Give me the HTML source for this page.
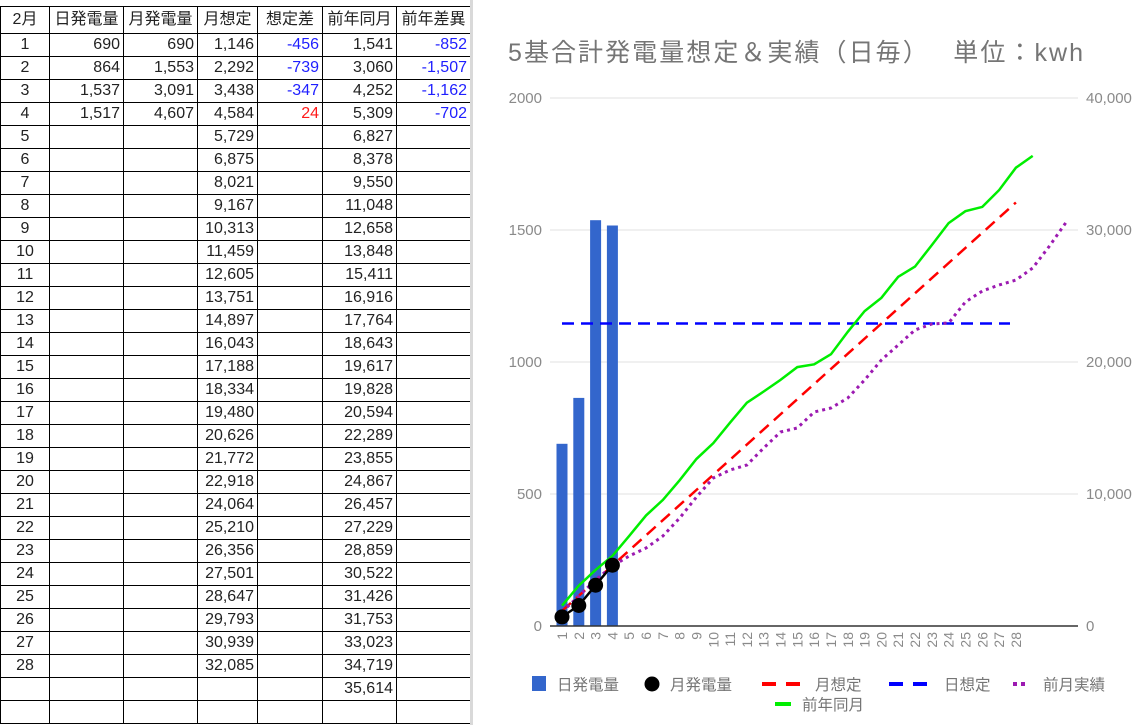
<!DOCTYPE html>
<html><head><meta charset="utf-8"><style>
body{margin:0;width:1147px;height:725px;background:#fff;overflow:hidden;position:relative;font-family:"Liberation Sans","Noto Sans CJK JP",sans-serif;}
table{position:absolute;left:0;top:6px;border-collapse:collapse;font-size:16px;color:#222;}
td{border:1px solid #000;height:22px;padding:0 3px;text-align:right;line-height:22px;white-space:nowrap;}
tr.h td{height:26px;text-align:center;}
td:first-child{text-align:center;}
.b{color:#1f1fff}.r{color:#ff1a1a}
#sep{position:absolute;left:470px;top:0;width:3px;height:725px;background:#d9d9d9;}
svg{position:absolute;left:0;top:0;}
</style></head><body>
<table>
<colgroup><col style="width:49px"><col style="width:74px"><col style="width:74px"><col style="width:60px"><col style="width:65px"><col style="width:74px"><col style="width:74px"></colgroup>
<tr class="h"><td>2月</td><td>日発電量</td><td>月発電量</td><td>月想定</td><td>想定差</td><td>前年同月</td><td>前年差異</td></tr>
<tr><td>1</td><td>690</td><td>690</td><td>1,146</td><td class="b">-456</td><td>1,541</td><td class="b">-852</td></tr>
<tr><td>2</td><td>864</td><td>1,553</td><td>2,292</td><td class="b">-739</td><td>3,060</td><td class="b">-1,507</td></tr>
<tr><td>3</td><td>1,537</td><td>3,091</td><td>3,438</td><td class="b">-347</td><td>4,252</td><td class="b">-1,162</td></tr>
<tr><td>4</td><td>1,517</td><td>4,607</td><td>4,584</td><td class="r">24</td><td>5,309</td><td class="b">-702</td></tr>
<tr><td>5</td><td></td><td></td><td>5,729</td><td></td><td>6,827</td><td></td></tr>
<tr><td>6</td><td></td><td></td><td>6,875</td><td></td><td>8,378</td><td></td></tr>
<tr><td>7</td><td></td><td></td><td>8,021</td><td></td><td>9,550</td><td></td></tr>
<tr><td>8</td><td></td><td></td><td>9,167</td><td></td><td>11,048</td><td></td></tr>
<tr><td>9</td><td></td><td></td><td>10,313</td><td></td><td>12,658</td><td></td></tr>
<tr><td>10</td><td></td><td></td><td>11,459</td><td></td><td>13,848</td><td></td></tr>
<tr><td>11</td><td></td><td></td><td>12,605</td><td></td><td>15,411</td><td></td></tr>
<tr><td>12</td><td></td><td></td><td>13,751</td><td></td><td>16,916</td><td></td></tr>
<tr><td>13</td><td></td><td></td><td>14,897</td><td></td><td>17,764</td><td></td></tr>
<tr><td>14</td><td></td><td></td><td>16,043</td><td></td><td>18,643</td><td></td></tr>
<tr><td>15</td><td></td><td></td><td>17,188</td><td></td><td>19,617</td><td></td></tr>
<tr><td>16</td><td></td><td></td><td>18,334</td><td></td><td>19,828</td><td></td></tr>
<tr><td>17</td><td></td><td></td><td>19,480</td><td></td><td>20,594</td><td></td></tr>
<tr><td>18</td><td></td><td></td><td>20,626</td><td></td><td>22,289</td><td></td></tr>
<tr><td>19</td><td></td><td></td><td>21,772</td><td></td><td>23,855</td><td></td></tr>
<tr><td>20</td><td></td><td></td><td>22,918</td><td></td><td>24,867</td><td></td></tr>
<tr><td>21</td><td></td><td></td><td>24,064</td><td></td><td>26,457</td><td></td></tr>
<tr><td>22</td><td></td><td></td><td>25,210</td><td></td><td>27,229</td><td></td></tr>
<tr><td>23</td><td></td><td></td><td>26,356</td><td></td><td>28,859</td><td></td></tr>
<tr><td>24</td><td></td><td></td><td>27,501</td><td></td><td>30,522</td><td></td></tr>
<tr><td>25</td><td></td><td></td><td>28,647</td><td></td><td>31,426</td><td></td></tr>
<tr><td>26</td><td></td><td></td><td>29,793</td><td></td><td>31,753</td><td></td></tr>
<tr><td>27</td><td></td><td></td><td>30,939</td><td></td><td>33,023</td><td></td></tr>
<tr><td>28</td><td></td><td></td><td>32,085</td><td></td><td>34,719</td><td></td></tr>
<tr><td></td><td></td><td></td><td></td><td></td><td>35,614</td><td></td></tr>
<tr><td></td><td></td><td></td><td></td><td></td><td></td><td></td></tr>
</table>
<div id="sep"></div>
<svg width="1147" height="725" font-family="Liberation Sans, Noto Sans CJK JP, sans-serif">
<text x="508" y="61" font-size="25" fill="#757575" textLength="575" lengthAdjust="spacing">5基合計発電量想定＆実績（日毎）　 単位：kwh</text>
<g stroke="#e0e0e0" stroke-width="1">
<line x1="550" y1="98" x2="1078" y2="98"/><line x1="550" y1="230" x2="1078" y2="230"/>
<line x1="550" y1="362" x2="1078" y2="362"/><line x1="550" y1="494" x2="1078" y2="494"/>
</g>
<g font-size="15" fill="#8a8a8a">
<text x="542" y="103" text-anchor="end">2000</text><text x="542" y="235" text-anchor="end">1500</text>
<text x="542" y="367" text-anchor="end">1000</text><text x="542" y="499" text-anchor="end">500</text>
<text x="542" y="631" text-anchor="end">0</text>
<text x="1086" y="103">40,000</text><text x="1086" y="235">30,000</text>
<text x="1086" y="367">20,000</text><text x="1086" y="499">10,000</text><text x="1086" y="631">0</text>
</g>
<g fill="#3366cc">
<rect x="556.5" y="443.8" width="11" height="182.2"/><rect x="573.3" y="397.9" width="11" height="228.1"/>
<rect x="590.1" y="220.2" width="11" height="405.8"/><rect x="606.9" y="225.5" width="11" height="400.5"/>
</g>
<line x1="562" y1="323.5" x2="1010" y2="323.5" stroke="#0000ff" stroke-width="2.5" stroke-dasharray="12,7"/>
<line x1="562" y1="610.9" x2="1015.9" y2="202.5" stroke="#ff0000" stroke-width="2.5" stroke-dasharray="12,7"/>
<polyline fill="none" stroke="#00ee00" stroke-width="2.5" points="562,605.7 578.8,585.6 595.6,569.9 612.4,555.9 629.2,535.9 646.1,515.4 662.9,499.9 679.7,480.2 696.5,458.9 713.3,443.2 730.1,422.6 746.9,402.7 763.7,391.5 780.5,379.9 797.3,367.1 814.2,364.3 831,354.2 847.8,331.8 864.6,311.1 881.4,297.8 898.2,276.8 915,266.6 931.8,245.1 948.6,223.1 965.4,211.2 982.3,206.9 999.1,190.1 1015.9,167.7 1032.7,155.9"/>
<polyline fill="none" stroke="#9c1ab1" stroke-width="3" stroke-dasharray="3,4" points="562,612 578.8,596 595.6,580 612.4,566 629.2,556 646.1,548 662.9,536 679.7,518 696.5,497 713.3,478 730.1,470 746.9,465 763.7,448 780.5,432 797.3,428 814.2,412 831,408 847.8,398 864.6,380 881.4,360 898.2,345 915,330 931.8,324 948.6,323 965.4,302 982.3,291 999.1,285 1015.9,280 1032.7,268 1049.5,246 1066.3,222"/>
<polyline fill="none" stroke="#000" stroke-width="2.5" points="562,616.9 578.8,605.5 595.6,585.2 612.4,565.2"/>
<g fill="#000"><circle cx="562" cy="616.9" r="7.5"/><circle cx="578.8" cy="605.5" r="7.5"/><circle cx="595.6" cy="585.2" r="7.5"/><circle cx="612.4" cy="565.2" r="7.5"/></g>
<line x1="550" y1="626" x2="1078" y2="626" stroke="#333" stroke-width="1.5"/>
<g font-size="14" fill="#8a8a8a">
<text transform="translate(567,632) rotate(-90)" text-anchor="end">1</text>
<text transform="translate(583.8,632) rotate(-90)" text-anchor="end">2</text>
<text transform="translate(600.6,632) rotate(-90)" text-anchor="end">3</text>
<text transform="translate(617.4,632) rotate(-90)" text-anchor="end">4</text>
<text transform="translate(634.2,632) rotate(-90)" text-anchor="end">5</text>
<text transform="translate(651.1,632) rotate(-90)" text-anchor="end">6</text>
<text transform="translate(667.9,632) rotate(-90)" text-anchor="end">7</text>
<text transform="translate(684.7,632) rotate(-90)" text-anchor="end">8</text>
<text transform="translate(701.5,632) rotate(-90)" text-anchor="end">9</text>
<text transform="translate(718.3,632) rotate(-90)" text-anchor="end">10</text>
<text transform="translate(735.1,632) rotate(-90)" text-anchor="end">11</text>
<text transform="translate(751.9,632) rotate(-90)" text-anchor="end">12</text>
<text transform="translate(768.7,632) rotate(-90)" text-anchor="end">13</text>
<text transform="translate(785.5,632) rotate(-90)" text-anchor="end">14</text>
<text transform="translate(802.3,632) rotate(-90)" text-anchor="end">15</text>
<text transform="translate(819.2,632) rotate(-90)" text-anchor="end">16</text>
<text transform="translate(836,632) rotate(-90)" text-anchor="end">17</text>
<text transform="translate(852.8,632) rotate(-90)" text-anchor="end">18</text>
<text transform="translate(869.6,632) rotate(-90)" text-anchor="end">19</text>
<text transform="translate(886.4,632) rotate(-90)" text-anchor="end">20</text>
<text transform="translate(903.2,632) rotate(-90)" text-anchor="end">21</text>
<text transform="translate(920,632) rotate(-90)" text-anchor="end">22</text>
<text transform="translate(936.8,632) rotate(-90)" text-anchor="end">23</text>
<text transform="translate(953.6,632) rotate(-90)" text-anchor="end">24</text>
<text transform="translate(970.4,632) rotate(-90)" text-anchor="end">25</text>
<text transform="translate(987.3,632) rotate(-90)" text-anchor="end">26</text>
<text transform="translate(1004.1,632) rotate(-90)" text-anchor="end">27</text>
<text transform="translate(1020.9,632) rotate(-90)" text-anchor="end">28</text>
</g>
<g font-size="15.5" fill="#757575">
<rect x="532" y="676" width="14" height="15" fill="#3366cc"/>
<text x="557" y="690">日発電量</text>
<circle cx="652" cy="684" r="7.5" fill="#000"/>
<text x="670" y="690">月発電量</text>
<line x1="762" y1="684" x2="806" y2="684" stroke="#ff0000" stroke-width="4" stroke-dasharray="14,10"/>
<text x="815" y="690">月想定</text>
<line x1="889" y1="684" x2="933" y2="684" stroke="#0000ff" stroke-width="4" stroke-dasharray="14,10"/>
<text x="944" y="690">日想定</text>
<line x1="1013" y1="684" x2="1027" y2="684" stroke="#9c1ab1" stroke-width="4" stroke-dasharray="4,4"/>
<text x="1043" y="690">前月実績</text>
<line x1="775" y1="704" x2="791" y2="704" stroke="#00ee00" stroke-width="4"/>
<text x="802" y="710">前年同月</text>
</g>
</svg>
</body></html>
